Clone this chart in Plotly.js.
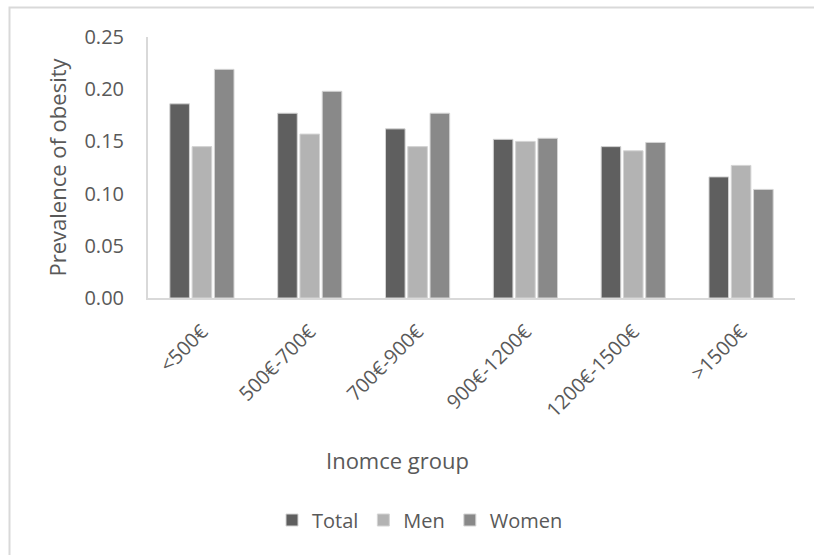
<!DOCTYPE html>
<html>
<head>
<meta charset="utf-8">
<script src="https://cdn.plot.ly/plotly-3.0.1.min.js"></script>
<style>
  html, body { margin: 0; padding: 0; background: #fff; }
  #chart { width: 814px; height: 555px; }
</style>
</head>
<body>
<div id="chart"></div>
<script>
// Income groups and obesity prevalence by sex
const incomeGroups = ['<500€', '500€-700€', '700€-900€', '900€-1200€', '1200€-1500€', '>1500€'];
const totalValues = [0.186, 0.177, 0.162, 0.152, 0.145, 0.116];
const menValues   = [0.145, 0.157, 0.145, 0.150, 0.141, 0.127];
const womenValues = [0.219, 0.198, 0.177, 0.153, 0.149, 0.104];
const yTicks = [0, 0.05, 0.10, 0.15, 0.20, 0.25];
const yTickLabels = ['0.00', '0.05', '0.10', '0.15', '0.20', '0.25'];

const textColor = '#595959';
const lineColor = '#d9d9d9';
const fontFamily = '"Open Sans", "Segoe UI", sans-serif';

const barLine = { color: '#d4d4d4', width: 1 };

const traces = [
  { type: 'bar', name: 'Total', x: incomeGroups, y: totalValues,
    marker: { color: '#5f5f5f', line: barLine } },
  { type: 'bar', name: 'Men', x: incomeGroups, y: menValues,
    marker: { color: '#b3b3b3', line: barLine } },
  { type: 'bar', name: 'Women', x: incomeGroups, y: womenValues,
    marker: { color: '#898989', line: barLine } }
];

// plot area in pixels: x 148..795, y 37..298
const W = 814, H = 555;
const L = 148, R = 19, T = 37, B = 257;
const pw = W - L - R, ph = H - T - B;
const px = v => (v - L) / pw;
const py = v => (H - B - v) / ph;

const layout = {
  width: W, height: H,
  margin: { l: L, r: R, t: T, b: B },
  paper_bgcolor: '#ffffff',
  plot_bgcolor: '#ffffff',
  font: { family: fontFamily, color: textColor, size: 20 },
  barmode: 'group',
  bargap: 0.38,
  bargroupgap: 0.12,
  showlegend: true,
  legend: {
    orientation: 'h',
    x: px(420), xanchor: 'center',
    y: py(520), yanchor: 'middle',
    font: { size: 20, color: textColor },
    itemclick: false
  },
  xaxis: {
    type: 'category',
    tickangle: -45,
    showline: true, linecolor: lineColor, linewidth: 2,
    showgrid: false, zeroline: false,
    ticks: '', ticklabelstandoff: 12,
    tickfont: { size: 20, color: textColor }
  },
  yaxis: {
    range: [0, 0.25],
    tickvals: yTicks, ticktext: yTickLabels,
    showline: true, linecolor: lineColor, linewidth: 2,
    showgrid: false, zeroline: false,
    ticks: '', ticklabelstandoff: 18,
    tickfont: { size: 20, color: textColor },
    title: { text: 'Prevalence of obesity', standoff: 12, font: { size: 22, color: textColor } }
  },
  annotations: [
    { text: 'Inomce group', xref: 'paper', yref: 'paper',
      x: px(397), y: py(460), xanchor: 'center', yanchor: 'middle',
      showarrow: false, font: { size: 22, color: textColor } }
  ],
  shapes: [
    { type: 'rect', xref: 'paper', yref: 'paper', layer: 'below',
      x0: px(9.5), x1: px(900), y0: py(700), y1: py(7.5),
      line: { color: lineColor, width: 2 }, fillcolor: 'rgba(0,0,0,0)' }
  ]
};

Plotly.newPlot('chart', traces, layout, { displayModeBar: false, staticPlot: true });
</script>
</body>
</html>
